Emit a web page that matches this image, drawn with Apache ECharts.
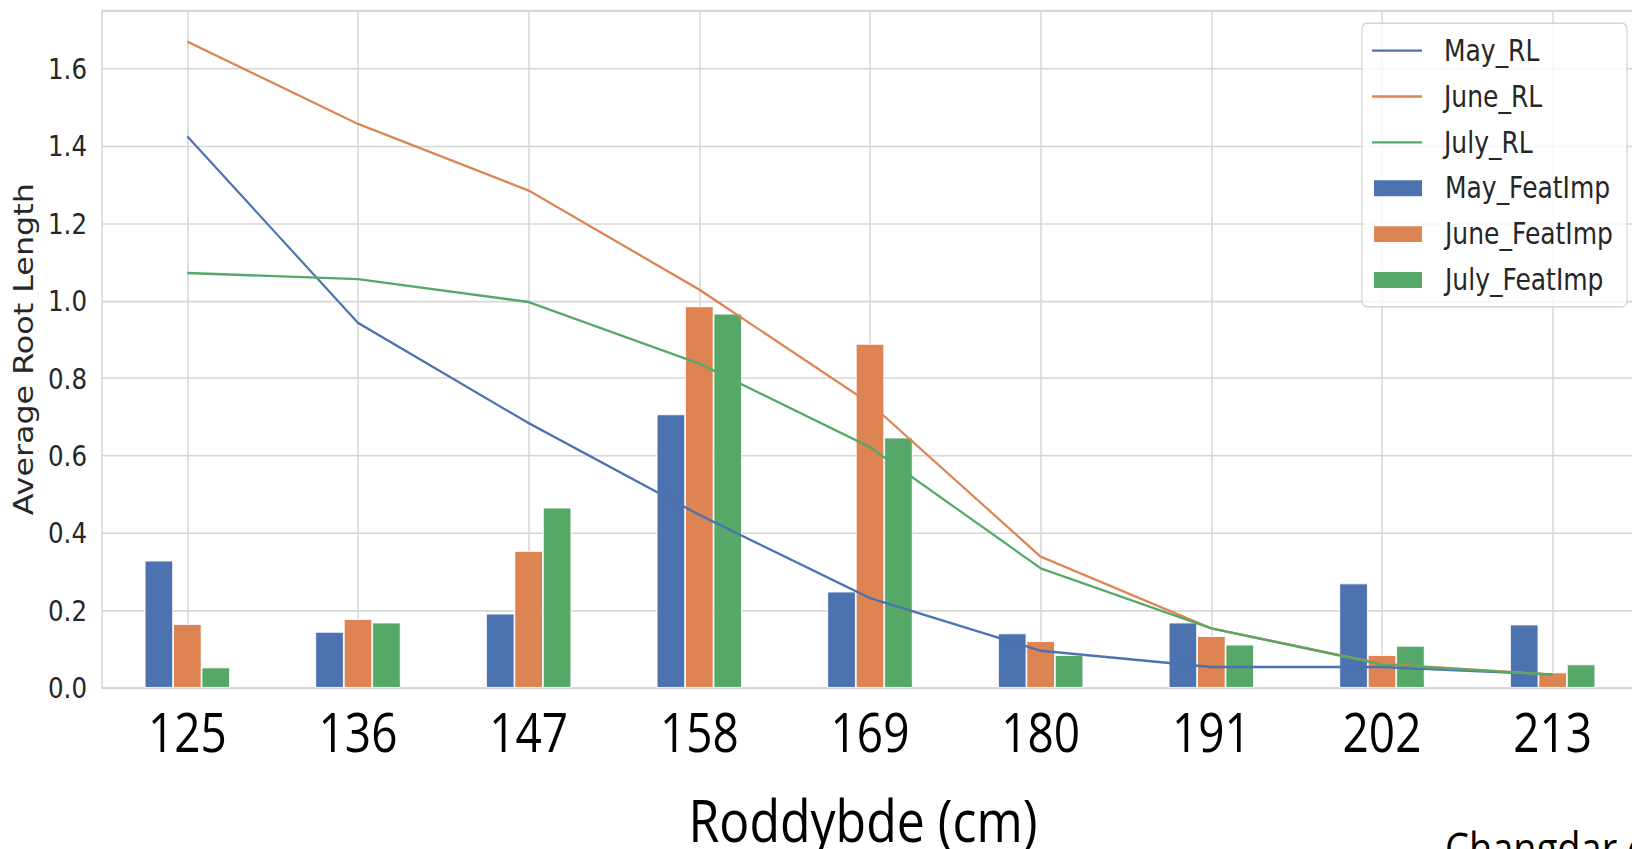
<!DOCTYPE html>
<html>
<head>
<meta charset="utf-8">
<title>Average Root Length by depth</title>
<script src="https://cdn.jsdelivr.net/npm/echarts@6/dist/echarts.min.js"></script>
<style>
  html, body { margin: 0; padding: 0; background: #ffffff; overflow: hidden; }
  #wrap { width: 1632px; height: 849px; overflow: hidden; }
  /* the figure is drawn on a shorter canvas and stretched vertically */
  #chart { width: 1632px; height: 722px; transform-origin: 0 0; transform: scaleY(1.17590); }
</style>
</head>
<body>
<div id="wrap"><div id="chart"></div></div>
<script>
// depth classes on the x axis
const depths = ['125', '136', '147', '158', '169', '180', '191', '202', '213'];

// average root length per month (lines)
const mayRL  = [1.425, 0.943, 0.684, 0.447, 0.232, 0.096, 0.054, 0.054, 0.035];
const juneRL = [1.670, 1.457, 1.285, 1.029, 0.735, 0.339, 0.154, 0.062, 0.034];
const julyRL = [1.072, 1.056, 0.997, 0.838, 0.622, 0.309, 0.154, 0.060, 0.034];

// feature importance per month (bars)
const mayFI  = [0.329, 0.145, 0.192, 0.707, 0.249, 0.141, 0.169, 0.270, 0.164];
const juneFI = [0.165, 0.178, 0.354, 0.986, 0.889, 0.121, 0.134, 0.085, 0.040];
const julyFI = [0.053, 0.169, 0.466, 0.967, 0.647, 0.085, 0.112, 0.109, 0.061];

const lineNames = ['May_RL', 'June_RL', 'July_RL'];
const barNames = ['May_FeatImp', 'June_FeatImp', 'July_FeatImp'];

const blue = '#4c72b0', orange = '#dd8452', green = '#55a868';
const gridColor = '#d6d6d6';
const tickFont = 'DejaVu Sans';

const plotTop = 9, plotBottom = 137;
const plotHeight = 722 - plotTop - plotBottom;

// legend frame
const legendBox = { x: 1362, y: 19.6, width: 265, height: 241.4 };
const legendRow = 39;
const legendFirst = legendBox.y + 11;

const chart = echarts.init(document.getElementById('chart'), null, { renderer: 'svg' });

function barSeries(name, data, color) {
  return {
    name: name, type: 'bar', data: data,
    barWidth: '16.67%', barGap: '0%',
    itemStyle: { color: color, borderColor: '#ffffff', borderWidth: 0.8 },
    z: 2
  };
}
function lineSeries(name, data, color) {
  return {
    name: name, type: 'line', data: data,
    symbol: 'none', smooth: false,
    lineStyle: { color: color, width: 2 },
    itemStyle: { color: color },
    z: 3
  };
}

const legendText = { fontFamily: tickFont, fontSize: 25, color: '#262626', lineHeight: 25, padding: [0, 0, 0, 17] };

chart.setOption({
  animation: false,
  backgroundColor: '#ffffff',
  grid: {
    left: 102, width: 1536, top: plotTop, bottom: plotBottom,
    outerBoundsMode: 'none', containLabel: false,
    show: true, borderColor: gridColor, borderWidth: 1.5, backgroundColor: 'transparent'
  },
  legend: [
    {
      orient: 'vertical', left: legendBox.x + 10, top: legendFirst, padding: 0,
      itemWidth: 50, itemHeight: 2, itemGap: legendRow - 25,
      icon: 'rect',
      textStyle: legendText,
      data: lineNames
    },
    {
      orient: 'vertical', left: legendBox.x + 10, top: legendFirst + 3 * legendRow, padding: 0,
      itemWidth: 50, itemHeight: 15.6, itemGap: legendRow - 25,
      icon: 'rect',
      textStyle: legendText,
      data: barNames
    }
  ],
  xAxis: {
    type: 'category',
    data: depths,
    boundaryGap: true,
    name: 'Roddybde (cm)',
    nameLocation: 'middle',
    nameGap: 90,
    nameTextStyle: { fontFamily: 'Open Sans', fontSize: 50, lineHeight: 44, color: '#000000', padding: [0, 14, 0, 0] },
    axisLine: { show: false },
    axisTick: {
      show: true, alignWithLabel: true, inside: true, length: plotHeight,
      lineStyle: { color: gridColor, width: 1.5 }
    },
    splitLine: { show: false },
    axisLabel: { fontFamily: 'Open Sans', fontSize: 46, color: '#000000', margin: 14 }
  },
  yAxis: {
    type: 'value',
    min: 0, max: 1.75, interval: 0.2,
    name: 'Average Root Length',
    nameLocation: 'middle',
    nameGap: 64,
    nameTextStyle: { fontFamily: tickFont, fontSize: 27, color: '#262626' },
    axisLine: { show: false },
    axisTick: { show: false },
    splitLine: { show: true, lineStyle: { color: gridColor, width: 1.3 } },
    axisLabel: {
      fontFamily: tickFont, fontSize: 24.5, color: '#262626', margin: 15,
      showMaxLabel: false,
      formatter: function (v) { return v.toFixed(1); }
    }
  },
  graphic: [
    {
      type: 'rect', z: 3,
      shape: { x: legendBox.x, y: legendBox.y, width: legendBox.width, height: legendBox.height, r: 5 },
      style: { fill: 'rgba(255,255,255,0.8)', stroke: '#cccccc', lineWidth: 1 }
    },
    {
      type: 'text', left: 1445, top: 701.5,
      style: { text: 'Changdar et al.', font: '38px "Open Sans"', fill: '#000000' }
    }
  ],
  series: [
    barSeries('May_FeatImp', mayFI, blue),
    barSeries('June_FeatImp', juneFI, orange),
    barSeries('July_FeatImp', julyFI, green),
    lineSeries('May_RL', mayRL, blue),
    lineSeries('June_RL', juneRL, orange),
    lineSeries('July_RL', julyRL, green)
  ]
});
</script>
</body>
</html>
